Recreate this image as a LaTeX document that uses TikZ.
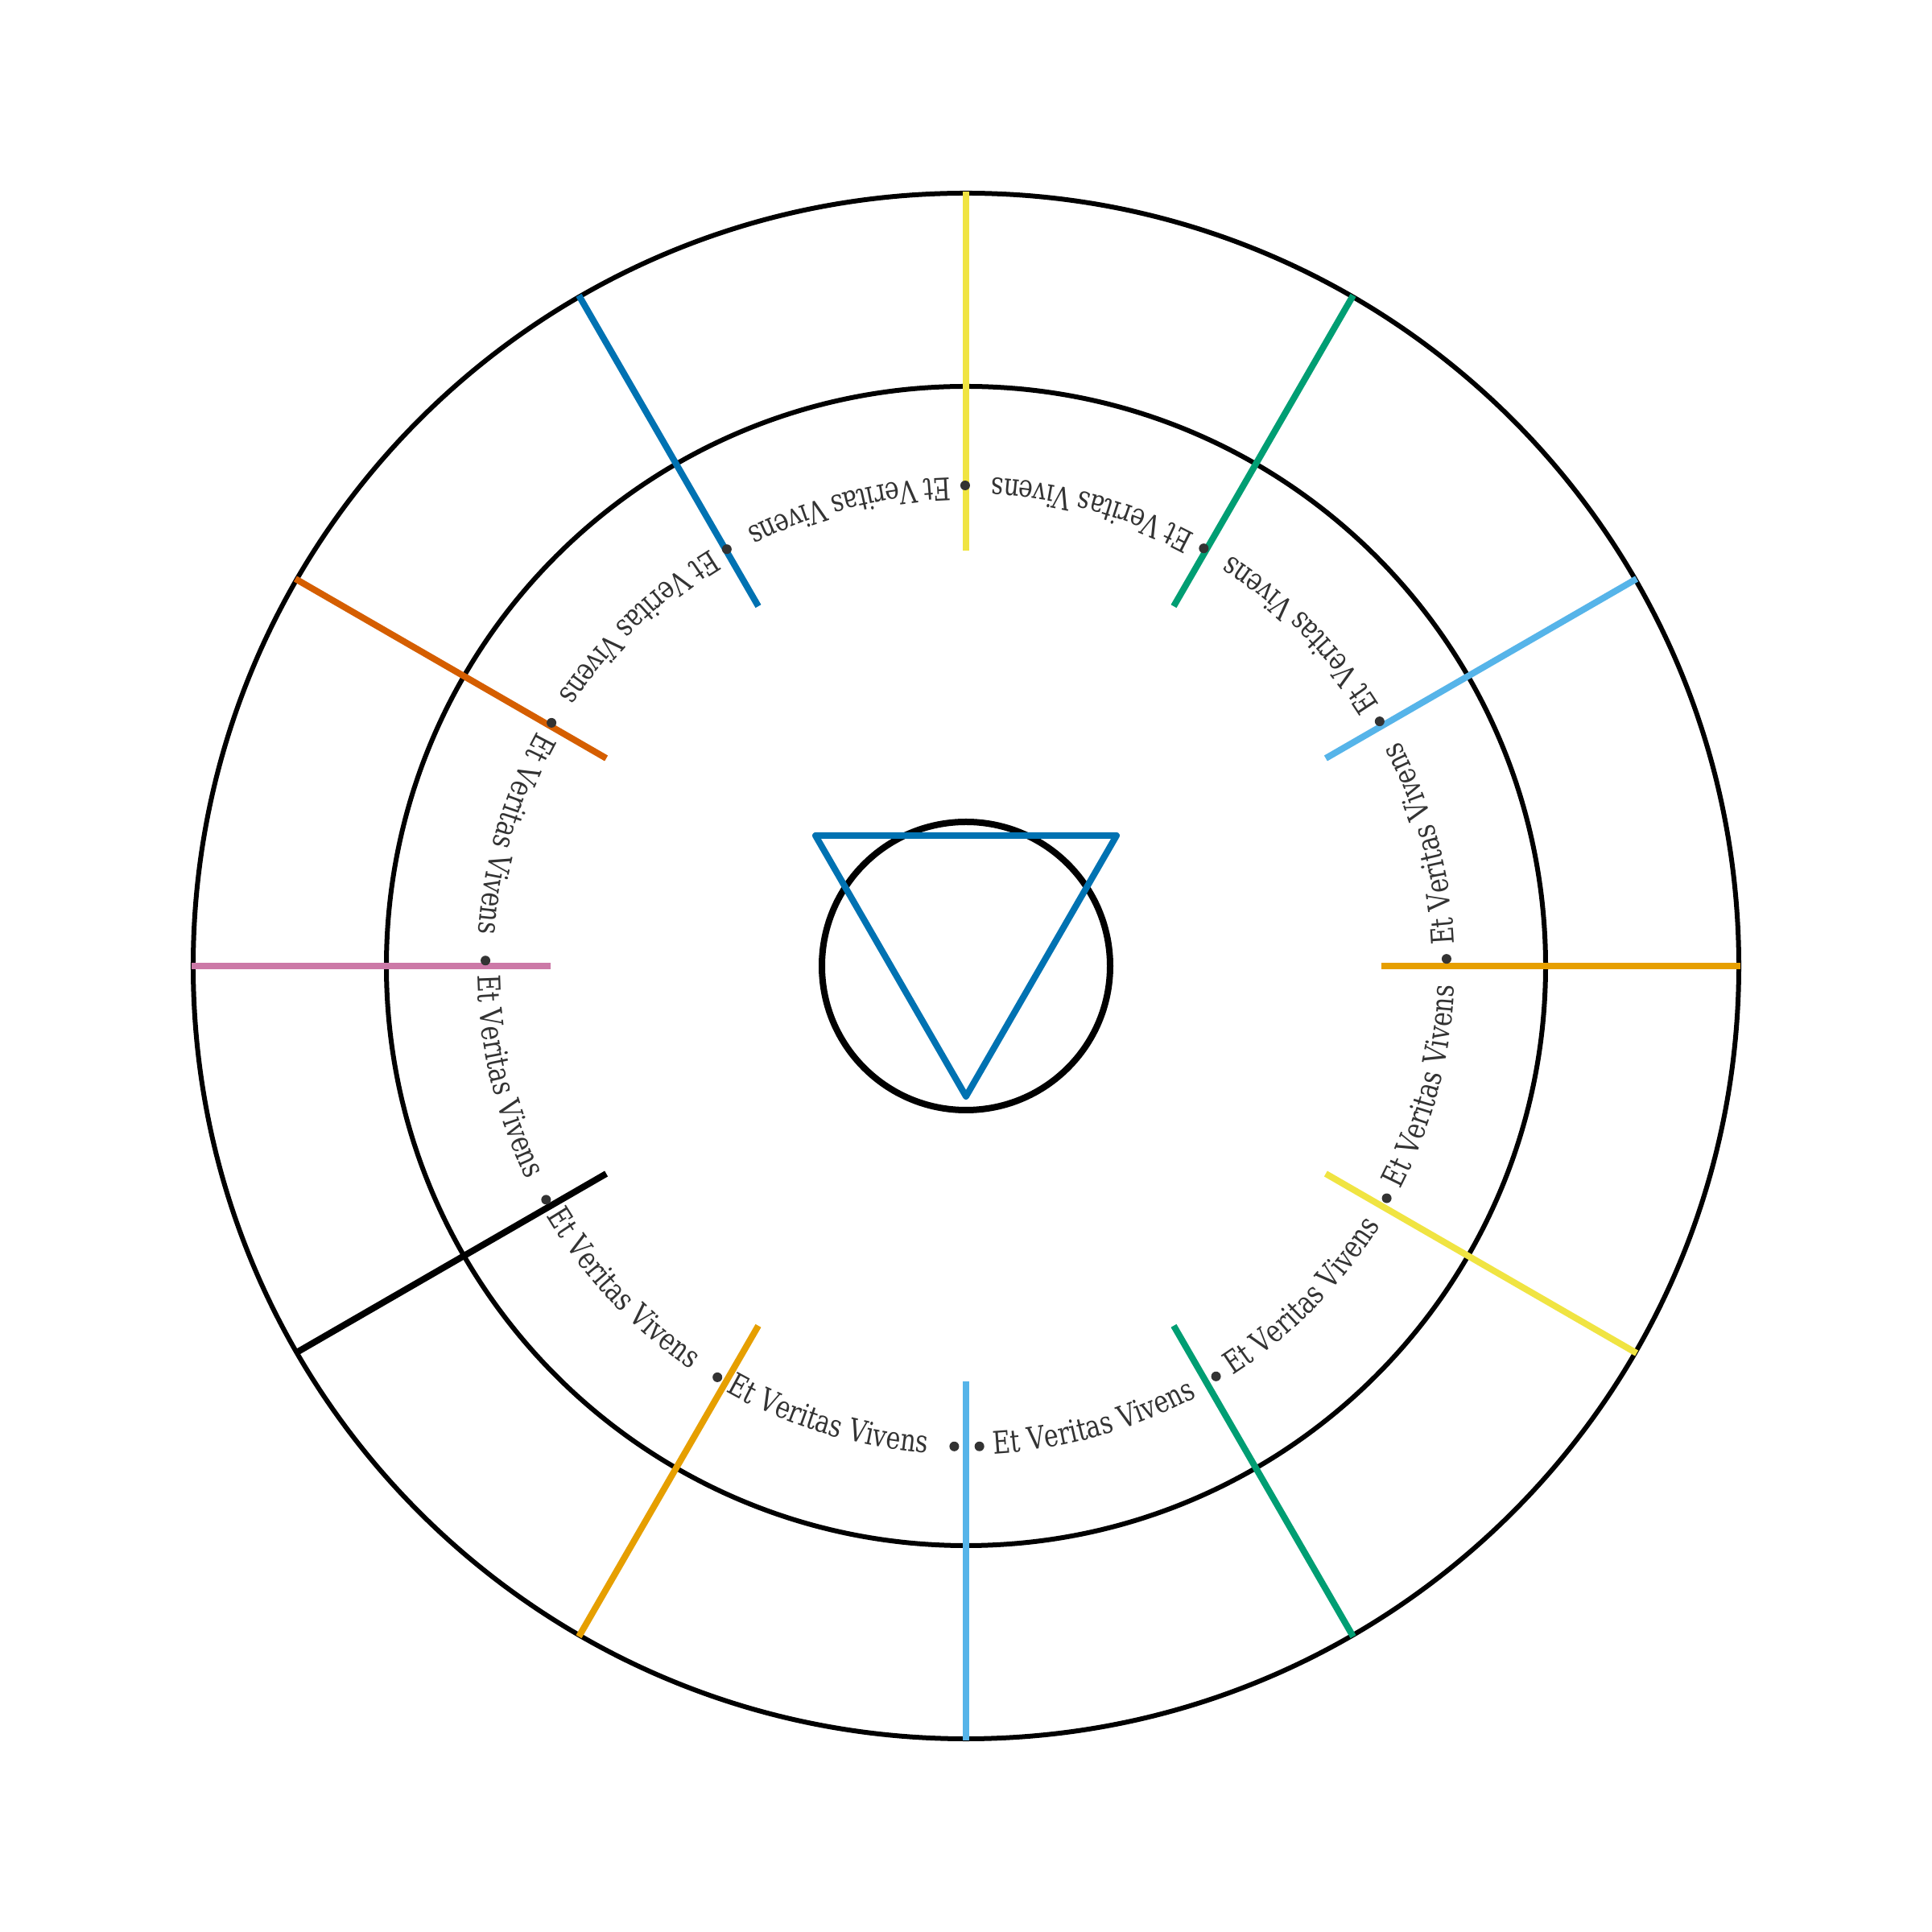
\documentclass[tikz,border=0pt]{standalone}
\usepackage{fontspec}
\newfontfamily\vfont{DejaVu Serif}[FakeStretch=0.78]
\usetikzlibrary{decorations.text}
\definecolor{okorange}{HTML}{E69F00}
\definecolor{oksky}{HTML}{56B4E9}
\definecolor{okgreen}{HTML}{009E73}
\definecolor{okyellow}{HTML}{F0E442}
\definecolor{okblue}{HTML}{0072B2}
\definecolor{okverm}{HTML}{D55E00}
\definecolor{okpurple}{HTML}{CC79A7}
\definecolor{txtgray}{HTML}{333333}
\newcommand\vtext{\vfont\fontsize{11}{13}\selectfont}
\begin{document}
\begin{tikzpicture}[x=1cm,y=1cm,
  ring/.style={line width=0.06cm},
  spoke/.style={line width=0.08cm, line cap=butt},
  hub/.style={line width=0.08cm},
  tri/.style={okblue, line width=0.08cm, line join=round, line cap=round},
  dotmark/.style={fill=txtgray},
  motto/.style={decorate, decoration={text along path, text={|\vtext|Et Veritas Vivens}, text color=txtgray}}
  ]
\useasboundingbox (-12,-12) rectangle (12,12);
\fill[white] (-12,-12) rectangle (12,12);
\draw[ring] (0,0) circle[radius=9.6];
\draw[ring] (0,0) circle[radius=7.2];
\draw[hub] (0,0) circle[radius=1.79];
\coordinate (tl) at (-1.87,1.62);
\coordinate (tr) at (1.87,1.62);
\coordinate (bt) at (0,-1.62);
\draw[tri] (tl) -- (tr) -- (bt) -- cycle;
\foreach \a/\c in {0/okorange,30/oksky,60/okgreen,90/okyellow,120/okblue,150/okverm,180/okpurple,210/black,240/okorange,270/oksky,300/okgreen,330/okyellow}
  \draw[spoke, \c] (\a:5.16) -- (\a:9.62);
\foreach \k in {0,...,12} {
  \pgfmathsetmacro\dotang{271.6+29.75*\k}
  \fill[dotmark] (\dotang:5.97) circle[radius=0.06];
}
\foreach \k in {0,...,11} {
  \pgfmathsetmacro\segS{271.6+29.75*\k+1.7}
  \pgfmathsetmacro\segE{\segS+27.5}
  \path[motto] (\segS:6.07) arc[start angle=\segS, end angle=\segE, radius=6.07];
}
\end{tikzpicture}
\end{document}
